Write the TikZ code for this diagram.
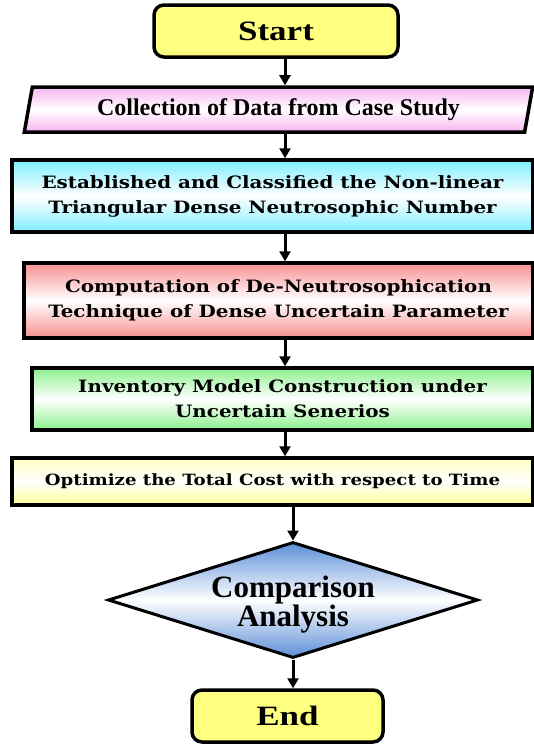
\documentclass[tikz,border=0pt]{standalone}
\usepackage{fontspec}
\setmainfont{Liberation Serif}
\newfontfamily\wideroman[FakeStretch=1.25]{Liberation Serif}
\newfontfamily\wideserif[FakeStretch=1.17]{DejaVu Serif}
\usetikzlibrary{shapes.geometric,arrows.meta}
\definecolor{termyellow}{HTML}{FFFF80}
\definecolor{datapink}{HTML}{F6B4F0}
\definecolor{numcyan}{HTML}{7EEFFF}
\definecolor{techred}{HTML}{F79090}
\definecolor{modelgreen}{HTML}{8CF08C}
\definecolor{optyellow}{HTML}{FFFF96}
\definecolor{compblue}{HTML}{5C8FD8}
\tikzset{
  terminal/.style={draw, line width=3.5pt, rounded corners=10pt, fill=termyellow,
    font=\wideroman\fontsize{28}{28}\selectfont\bfseries, inner sep=0pt},
  process/.style={draw, line width=3.5pt, inner sep=0pt, align=center,
    font=\wideserif\fontsize{17}{25}\selectfont\bfseries},
  flow/.style={line width=3pt, -{Triangle[length=10pt,width=11pt]}}
}
\begin{document}
\begin{tikzpicture}[x=1pt,y=-1pt]
\useasboundingbox (0,0) rectangle (534,744);
\coordinate (spine) at (285,0);

\node[terminal, minimum width=244pt, minimum height=52pt] (start) at (276,31) {Start};
\node[draw, line width=3.5pt, trapezium, trapezium left angle=75, trapezium right angle=105,
  trapezium stretches=true, minimum width=511pt, minimum height=45pt, inner sep=0pt,
  top color=datapink, bottom color=datapink, middle color=white,
  font=\fontsize{24}{24}\selectfont\bfseries] (data) at (278.5,109.5)
  {Collection of Data from Case Study};
\node[process, minimum width=521pt, minimum height=72pt,
  top color=numcyan, bottom color=numcyan, middle color=white] (number) at (272.5,196)
  {Established and Classified the Non-linear\\Triangular Dense Neutrosophic Number};
\node[process, minimum width=509pt, minimum height=75pt,
  top color=techred, bottom color=techred, middle color=white] (technique) at (278.5,300.5)
  {Computation of De-Neutrosophication\\Technique of Dense Uncertain Parameter};
\node[process, minimum width=501pt, minimum height=62pt,
  top color=modelgreen, bottom color=modelgreen, middle color=white] (model) at (282.5,399)
  {Inventory Model Construction under\\Uncertain Senerios};
\node[process, minimum width=521pt, minimum height=47pt,
  top color=optyellow!60, bottom color=optyellow, middle color=white,
  font=\wideserif\fontsize{15.5}{20}\selectfont\bfseries] (optimize) at (272.5,481.5)
  {Optimize the Total Cost with respect to Time};
\node[draw, line width=3pt, diamond, aspect=3.19, minimum width=370pt, minimum height=116pt,
  inner sep=0pt, top color=compblue, bottom color=compblue, middle color=white,
  label={[yshift=-5pt, align=center, font=\fontsize{31}{29}\selectfont\bfseries]center:Comparison\\Analysis}]
  (compare) at (293,600) {};
\node[terminal, minimum width=191pt, minimum height=52pt] (end) at (287.5,716) {End};

\draw[flow] (start.south -| spine) -- (data.north -| spine);
\draw[flow] (data.south -| spine) -- (number.north -| spine);
\draw[flow] (number.south -| spine) -- (technique.north -| spine);
\draw[flow] (technique.south -| spine) -- (model.north -| spine);
\draw[flow] (model.south -| spine) -- (optimize.north -| spine);
\draw[flow] (optimize.south -| compare.north) -- (compare.north);
\draw[flow] (compare.south) -- (compare.south |- end.north);
\end{tikzpicture}
\end{document}
